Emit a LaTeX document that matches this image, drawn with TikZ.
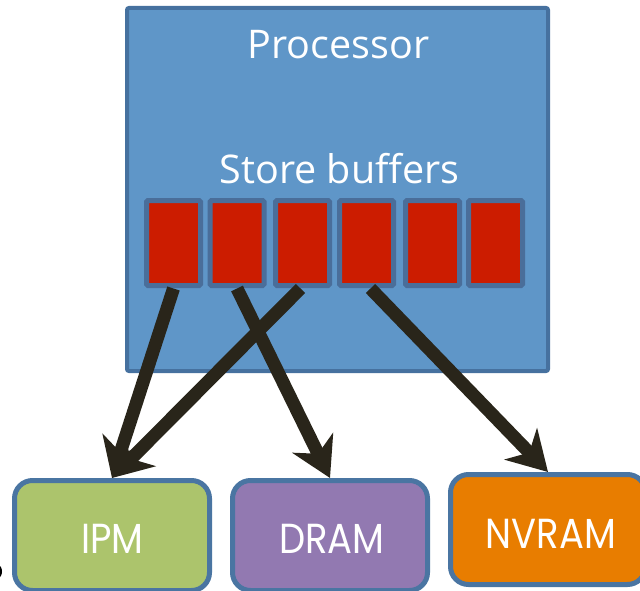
\documentclass[tikz,border=0pt]{standalone}
\usepackage{fontspec}
\setmainfont{Open Sans}
\newfontfamily\memfont[FakeStretch=0.88]{Poppins}
\usetikzlibrary{arrows.meta}
\definecolor{procfill}{HTML}{5F96C8}
\definecolor{procedge}{HTML}{46719F}
\definecolor{bufedge}{HTML}{4A6E9A}
\definecolor{bufred}{HTML}{CC1C00}
\definecolor{boxedge}{HTML}{4A75A2}
\definecolor{ipmgreen}{HTML}{ACC46C}
\definecolor{drampurple}{HTML}{9279B1}
\definecolor{nvorange}{HTML}{E87D00}
\definecolor{arrowdark}{HTML}{29251A}
\tikzset{
  buf/.style={draw=bufedge, fill=bufred, line width=5pt, minimum width=54pt,
    minimum height=85pt, rounded corners=1.5pt, inner sep=0pt, outer sep=0pt},
  mem/.style={draw=boxedge, line width=5pt, minimum width=195pt,
    minimum height=110pt, rounded corners=18pt, inner sep=0pt},
  memlabel/.style={text=white, anchor=base, font=\memfont\fontsize{42}{42}\selectfont},
  plabel/.style={text=white, anchor=base, font=\fontsize{39.5}{39.5}\selectfont},
  arr/.style={draw=arrowdark, line width=13pt,
    -{Stealth[length=39pt, width=45pt, inset=12pt]}}
}
\begin{document}
\begin{tikzpicture}[x=1pt, y=-1pt]
\useasboundingbox (0,0) rectangle (640,591);

% processor block
\node[draw=procedge, fill=procfill, line width=4pt, minimum width=421pt,
  minimum height=363pt, rounded corners=2pt, inner sep=0pt] (proc) at (337.5,189.5) {};
\node[plabel] (proctext) at (338.5,59) {Processor};
\node[plabel] (sbtext) at (339.5,183) {Store buffers};

% store buffer entries
\node[buf] (b1) at (173.5,243) {};
\node[buf] (b2) at (237,243) {};
\node[buf] (b3) at (302.5,243) {};
\node[buf] (b4) at (366.5,243) {};
\node[buf] (b5) at (432.5,243) {};
\node[buf] (b6) at (495.5,243) {};

% memories
\node[mem, fill=ipmgreen] (ipm) at (112,535.5) {};
\node[mem, fill=drampurple] (dram) at (330,535.5) {};
\node[mem, fill=nvorange] (nvram) at (548,529.5) {};
\node[memlabel] (ipmtext) at (112.5,553) {IPM};
\node[memlabel] (dramtext) at (332,553) {DRAM};
\node[memlabel] (nvtext) at (551,548) {NVRAM};

% write paths
\draw[arr] ([yshift=-3pt]b1.south) -- (ipm.north);
\draw[arr] ([yshift=-3pt]b2.south) -- (dram.north);
\draw[arr] ([xshift=-2pt,yshift=-3pt]b3.south) -- (ipm.north);
\draw[arr] ([xshift=4pt,yshift=-3pt]b4.south) -- (nvram.north);

% glyph fragment at the left edge
\fill[black] (-2,571.5) ellipse (4 and 6.5);
\end{tikzpicture}
\end{document}
